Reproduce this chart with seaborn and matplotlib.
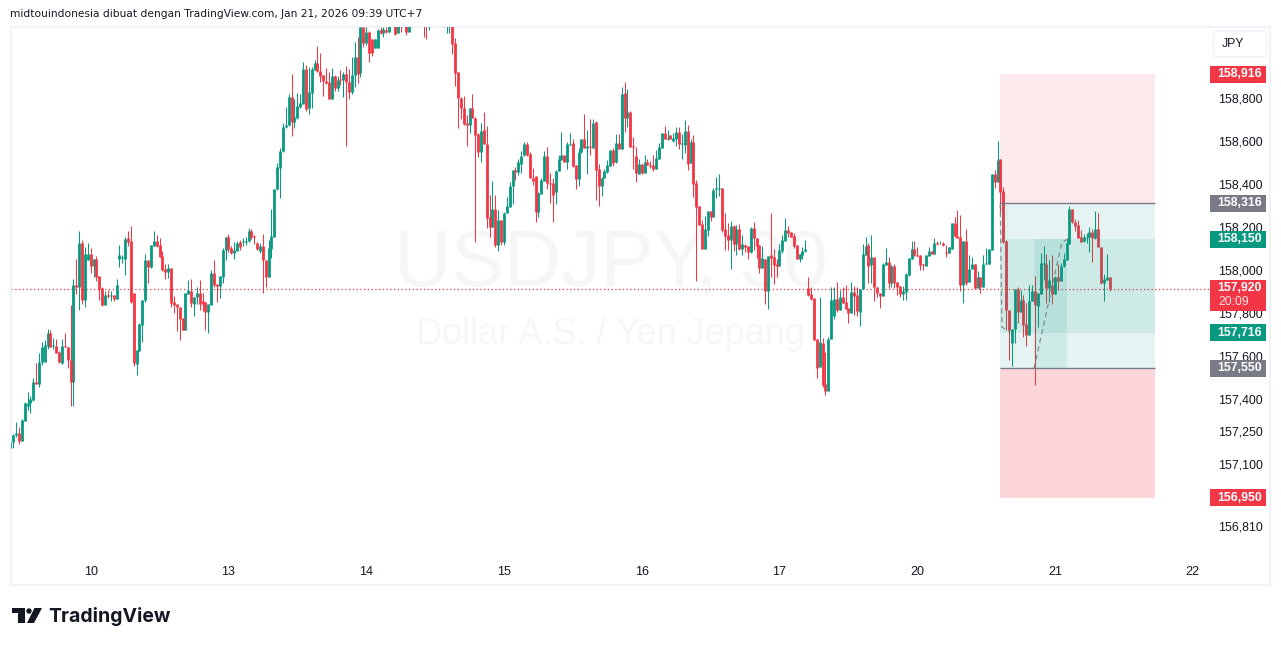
import pandas as pd
import matplotlib.pyplot as plt
import seaborn as sns
from matplotlib.patches import Rectangle, FancyBboxPatch, Ellipse, Polygon
from matplotlib.transforms import ScaledTranslation, blended_transform_factory

W, H = 1281, 646

# G = rising candle, R = falling candle
directions = ("GGGRGGGGGR" "GGGGRGRRGR" "RRGRGRGGRG" "RRRGRGRGGG" "GRRRGGGGRG" "GRRRRGRRRR" "RGGRGGRRRG" "GRRGGGRRGG"
              "RGGGRRRGRR" "GGGGGGGGRG" "GGGRGGGRRR" "RRGRGRGRRG" "GRGRGRRGGR" "GRGGRGRGRG" "GGGGRRGGGG" "GRGGRRRRRR"
              "GRRRGRRRGR" "GRGGGGRGGG" "RRRRGGGRRR" "GGGRGGRRGG" "RGRGRRGGGG" "RGRGRGRRRG" "RGRRRGGGRG" "RGGRGGRGRR"
              "RRGGRGGGRR" "RGRGRGRRGR" "RRGRGRRRGG" "GRRRRGGGRR" "RRGRRGGGRG" "RRRGRRGGGR" "GRRRGGRGRR" "RGGGGRRRRG"
              "GRGRGRRGGR" "RRGRGGRGRG" "GGGRGRRRRG" "GRGRRGGRGG" "GRGRGRGGGG" "RRRRGGGRGR" "RGGR")

body_top = [
    157.209, 157.240, 157.252, 157.252, 157.310, 157.387, 157.387, 157.407, 157.485, 157.485,
    157.578, 157.647, 157.658, 157.712, 157.712, 157.658, 157.653, 157.625, 157.656, 157.656,
    157.647, 157.591, 157.935, 157.935, 158.130, 158.133, 158.079, 158.079, 158.079, 158.056,
    158.056, 157.977, 157.923, 157.889, 157.889, 157.889, 157.889, 157.935, 158.074, 158.068,
    158.150, 158.153, 158.141, 157.898, 157.635, 157.756, 157.867, 158.053, 158.053, 158.121,
    158.141, 158.141, 158.122, 158.071, 158.009, 158.015, 158.015, 157.859, 157.847, 157.834,
    157.782, 157.898, 157.913, 157.909, 157.879, 157.898, 157.898, 157.861, 157.856, 157.847,
    157.991, 157.991, 157.940, 157.977, 158.098, 158.158, 158.158, 158.108, 158.099, 158.132,
    158.135, 158.139, 158.139, 158.186, 158.186, 158.164, 158.130, 158.116, 158.116, 158.053,
    158.107, 158.163, 158.385, 158.483, 158.557, 158.669, 158.680, 158.808, 158.808, 158.715,
    158.766, 158.780, 158.938, 158.938, 158.833, 158.938, 158.966, 158.966, 158.932, 158.910,
    158.885, 158.881, 158.907, 158.907, 158.891, 158.893, 158.919, 158.916, 158.881, 158.912,
    158.994, 158.994, 159.133, 159.133, 159.111, 159.111, 159.077, 159.077, 159.121, 159.121,
    159.125, 159.121, 159.150, 159.170, 159.160, 159.150, 159.170, 159.170, 159.160, 159.150,
    159.165, 159.175, 159.180, 159.175, 159.180, 159.180, 159.170, 159.175, 159.185, 159.180,
    159.170, 159.160, 159.170, 159.170, 159.150, 159.062, 158.924, 158.806, 158.757, 158.689,
    158.757, 158.757, 158.712, 158.636, 158.652, 158.655, 158.594, 158.251, 158.288, 158.288,
    158.238, 158.241, 158.272, 158.303, 158.396, 158.471, 158.471, 158.506, 158.536, 158.590,
    158.591, 158.545, 158.433, 158.443, 158.365, 158.424, 158.536, 158.536, 158.412, 158.409,
    158.466, 158.522, 158.539, 158.539, 158.590, 158.594, 158.596, 158.494, 158.553, 158.613,
    158.613, 158.582, 158.582, 158.689, 158.693, 158.474, 158.436, 158.466, 158.494, 158.563,
    158.566, 158.596, 158.596, 158.823, 158.828, 158.740, 158.740, 158.582, 158.536, 158.498,
    158.501, 158.508, 158.508, 158.495, 158.494, 158.526, 158.576, 158.642, 158.642, 158.619,
    158.633, 158.618, 158.647, 158.647, 158.596, 158.652, 158.652, 158.601, 158.601, 158.409,
    158.304, 158.219, 158.197, 158.279, 158.279, 158.378, 158.386, 158.387, 158.387, 158.197,
    158.167, 158.211, 158.211, 158.197, 158.197, 158.127, 158.123, 158.118, 158.202, 158.202,
    158.155, 158.121, 158.062, 158.059, 158.072, 158.076, 158.065, 158.034, 158.099, 158.146,
    158.192, 158.192, 158.183, 158.164, 158.121, 158.081, 158.093, 158.102, 157.921, 157.895,
    157.877, 157.685, 157.671, 157.669, 157.477, 157.688, 157.867, 157.870, 157.870, 157.883,
    157.883, 157.858, 157.832, 157.904, 157.904, 157.889, 157.920, 158.081, 158.118, 158.123,
    158.068, 158.068, 157.926, 157.901, 158.034, 158.044, 158.044, 158.025, 158.025, 157.949,
    157.932, 157.911, 157.988, 158.061, 158.102, 158.106, 158.076, 158.076, 158.034, 158.075,
    158.096, 158.096, 158.130, 158.132, 158.132, 158.132, 158.090, 158.112, 158.225, 158.225,
    158.164, 158.158, 158.140, 158.140, 158.013, 158.034, 158.034, 157.976, 157.972, 158.034,
    158.037, 158.102, 158.452, 158.452, 158.517, 158.520, 158.373, 158.143, 157.821, 157.733,
    157.920, 157.920, 157.867, 157.867, 157.756, 157.864, 157.908, 157.908, 157.898, 158.041,
    158.037, 158.034, 157.960, 157.937, 157.974, 157.974, 158.027, 158.056, 158.133, 158.290,
    158.290, 158.229, 158.214, 158.160, 158.158, 158.161, 158.181, 158.183, 158.198, 158.198,
    158.115, 157.963, 157.974, 157.974,
]

body_bottom = [
    157.181, 157.209, 157.240, 157.214, 157.214, 157.307, 157.376, 157.389, 157.403, 157.479,
    157.479, 157.578, 157.581, 157.653, 157.650, 157.655, 157.622, 157.581, 157.576, 157.647,
    157.588, 157.488, 157.488, 157.930, 157.929, 157.867, 157.867, 158.053, 158.025, 158.025,
    157.975, 157.917, 157.844, 157.844, 157.884, 157.886, 157.873, 157.873, 158.059, 158.063,
    158.059, 158.138, 157.859, 157.573, 157.570, 157.632, 157.749, 157.867, 158.022, 158.020,
    158.119, 158.119, 158.068, 158.006, 157.998, 157.997, 157.853, 157.845, 157.833, 157.780,
    157.728, 157.728, 157.895, 157.855, 157.851, 157.879, 157.848, 157.848, 157.811, 157.811,
    157.844, 157.937, 157.934, 157.934, 157.975, 158.098, 158.105, 158.087, 158.087, 158.096,
    158.115, 158.135, 158.136, 158.139, 158.158, 158.161, 158.105, 158.096, 158.053, 157.974,
    157.974, 158.105, 158.161, 158.382, 158.481, 158.557, 158.669, 158.678, 158.695, 158.695,
    158.712, 158.763, 158.777, 158.752, 158.757, 158.830, 158.935, 158.932, 158.909, 158.885,
    158.873, 158.802, 158.802, 158.851, 158.851, 158.888, 158.888, 158.878, 158.834, 158.834,
    158.912, 158.916, 158.922, 159.062, 159.062, 159.015, 159.015, 159.037, 159.037, 159.105,
    159.108, 159.111, 159.111, 159.150, 159.102, 159.108, 159.145, 159.155, 159.111, 159.111,
    159.150, 159.160, 159.165, 159.155, 159.160, 159.160, 159.150, 159.155, 159.165, 159.165,
    159.150, 159.150, 159.150, 159.150, 159.056, 158.922, 158.806, 158.757, 158.684, 158.679,
    158.679, 158.712, 158.633, 158.554, 158.554, 158.591, 158.248, 158.207, 158.207, 158.122,
    158.122, 158.135, 158.138, 158.272, 158.300, 158.396, 158.461, 158.461, 158.501, 158.540,
    158.540, 158.433, 158.421, 158.276, 158.276, 158.359, 158.421, 158.409, 158.406, 158.354,
    158.368, 158.466, 158.517, 158.509, 158.509, 158.588, 158.491, 158.430, 158.430, 158.553,
    158.573, 158.574, 158.577, 158.573, 158.471, 158.396, 158.396, 158.433, 158.461, 158.491,
    158.505, 158.508, 158.570, 158.570, 158.712, 158.712, 158.579, 158.579, 158.458, 158.452,
    158.458, 158.458, 158.492, 158.491, 158.477, 158.477, 158.523, 158.573, 158.616, 158.616,
    158.616, 158.607, 158.614, 158.591, 158.592, 158.587, 158.499, 158.505, 158.406, 158.301,
    158.215, 158.106, 158.106, 158.192, 158.251, 158.251, 158.381, 158.384, 158.191, 158.164,
    158.146, 158.146, 158.127, 158.127, 158.106, 158.106, 158.113, 158.090, 158.090, 158.155,
    158.118, 158.016, 158.016, 157.911, 157.911, 158.061, 158.030, 158.025, 158.025, 158.093,
    158.143, 158.180, 158.161, 158.118, 158.059, 158.059, 158.078, 158.093, 157.892, 157.873,
    157.681, 157.553, 157.556, 157.474, 157.446, 157.446, 157.688, 157.793, 157.821, 157.821,
    157.855, 157.827, 157.808, 157.808, 157.886, 157.815, 157.813, 157.920, 158.076, 158.025,
    158.028, 157.926, 157.898, 157.887, 157.884, 158.031, 157.945, 157.945, 157.948, 157.929,
    157.895, 157.895, 157.906, 157.982, 158.058, 158.075, 158.072, 158.031, 158.028, 158.027,
    158.073, 158.079, 158.081, 158.129, 158.130, 158.123, 158.087, 158.085, 158.106, 158.164,
    158.155, 157.937, 157.939, 157.948, 157.952, 158.011, 157.921, 157.923, 157.929, 157.929,
    158.034, 158.034, 158.099, 158.417, 158.415, 158.370, 158.138, 157.819, 157.728, 157.666,
    157.733, 157.813, 157.813, 157.751, 157.706, 157.706, 157.864, 157.844, 157.841, 157.895,
    158.034, 157.924, 157.921, 157.894, 157.895, 157.955, 157.955, 158.025, 158.053, 158.127,
    158.229, 158.211, 158.157, 158.138, 158.140, 158.155, 158.161, 158.154, 158.154, 158.112,
    157.945, 157.948, 157.960, 157.920,
]

wick_high = [
    157.220, 157.245, 157.300, 157.276, 157.314, 157.392, 157.441, 157.421, 157.503, 157.573,
    157.619, 157.673, 157.681, 157.735, 157.728, 157.689, 157.684, 157.632, 157.684, 157.712,
    157.647, 157.842, 157.967, 158.057, 158.187, 158.146, 158.115, 158.130, 158.107, 158.056,
    158.071, 157.977, 157.929, 157.910, 157.913, 157.910, 157.889, 157.964, 158.122, 158.076,
    158.161, 158.187, 158.211, 157.898, 157.635, 157.759, 157.867, 158.079, 158.053, 158.121,
    158.187, 158.169, 158.153, 158.094, 158.033, 158.033, 158.015, 157.885, 157.847, 157.834,
    157.782, 157.901, 157.960, 157.963, 157.879, 157.929, 157.960, 157.898, 157.856, 157.847,
    158.006, 158.053, 157.940, 157.977, 158.111, 158.158, 158.173, 158.118, 158.138, 158.142,
    158.146, 158.153, 158.158, 158.200, 158.195, 158.167, 158.138, 158.133, 158.176, 158.053,
    158.146, 158.288, 158.385, 158.502, 158.571, 158.687, 158.762, 158.823, 158.919, 158.799,
    158.827, 158.823, 158.972, 158.958, 158.950, 158.947, 158.984, 159.046, 159.015, 158.910,
    158.944, 158.927, 158.943, 158.912, 158.907, 158.935, 158.927, 158.953, 158.938, 158.994,
    159.066, 159.087, 159.136, 159.136, 159.133, 159.116, 159.077, 159.077, 159.124, 159.133,
    159.133, 159.133, 159.160, 159.180, 159.170, 159.160, 159.180, 159.180, 159.170, 159.160,
    159.185, 159.190, 159.195, 159.190, 159.190, 159.190, 159.180, 159.190, 159.200, 159.195,
    159.185, 159.170, 159.180, 159.180, 159.170, 159.082, 158.927, 158.808, 158.814, 158.726,
    158.757, 158.823, 158.715, 158.644, 158.687, 158.740, 158.675, 158.353, 158.418, 158.354,
    158.285, 158.241, 158.277, 158.344, 158.415, 158.471, 158.483, 158.520, 158.560, 158.601,
    158.601, 158.553, 158.478, 158.443, 158.368, 158.432, 158.560, 158.579, 158.455, 158.432,
    158.471, 158.540, 158.647, 158.539, 158.601, 158.644, 158.613, 158.494, 158.571, 158.613,
    158.731, 158.659, 158.706, 158.710, 158.700, 158.501, 158.440, 158.475, 158.517, 158.566,
    158.571, 158.638, 158.638, 158.857, 158.879, 158.847, 158.746, 158.622, 158.579, 158.522,
    158.501, 158.540, 158.520, 158.511, 158.540, 158.563, 158.597, 158.645, 158.675, 158.656,
    158.633, 158.641, 158.669, 158.669, 158.638, 158.703, 158.680, 158.615, 158.633, 158.424,
    158.304, 158.239, 158.257, 158.279, 158.279, 158.386, 158.437, 158.452, 158.387, 158.270,
    158.223, 158.233, 158.214, 158.214, 158.220, 158.169, 158.127, 158.118, 158.208, 158.229,
    158.155, 158.121, 158.118, 158.059, 158.072, 158.270, 158.103, 158.056, 158.127, 158.169,
    158.248, 158.211, 158.185, 158.177, 158.121, 158.081, 158.115, 158.146, 157.972, 157.929,
    157.877, 157.685, 157.880, 157.689, 157.626, 157.697, 157.929, 157.929, 157.949, 157.914,
    157.926, 157.937, 157.832, 157.949, 157.934, 157.929, 157.920, 158.127, 158.158, 158.130,
    158.169, 158.068, 157.926, 157.901, 158.037, 158.109, 158.065, 158.030, 158.034, 157.949,
    157.932, 157.932, 157.994, 158.061, 158.141, 158.141, 158.115, 158.076, 158.034, 158.075,
    158.115, 158.096, 158.154, 158.140, 158.143, 158.137, 158.124, 158.115, 158.225, 158.254,
    158.285, 158.262, 158.140, 158.195, 158.076, 158.065, 158.034, 158.003, 157.972, 158.076,
    158.107, 158.102, 158.452, 158.471, 158.607, 158.520, 158.393, 158.146, 157.821, 157.733,
    157.920, 157.929, 157.914, 157.890, 157.852, 157.937, 157.937, 157.979, 157.898, 158.087,
    158.118, 158.081, 158.053, 158.076, 157.979, 158.034, 158.037, 158.084, 158.155, 158.304,
    158.290, 158.242, 158.239, 158.192, 158.174, 158.177, 158.208, 158.195, 158.282, 158.270,
    158.115, 157.988, 158.081, 157.974,
]

wick_low = [
    157.163, 157.178, 157.232, 157.201, 157.214, 157.307, 157.356, 157.344, 157.399, 157.479,
    157.465, 157.565, 157.581, 157.642, 157.650, 157.639, 157.619, 157.573, 157.568, 157.647,
    157.550, 157.375, 157.375, 157.895, 157.820, 157.848, 157.836, 158.053, 157.994, 157.975,
    157.957, 157.867, 157.841, 157.844, 157.878, 157.862, 157.864, 157.873, 158.022, 158.040,
    157.983, 158.119, 157.855, 157.562, 157.519, 157.632, 157.672, 157.859, 157.944, 158.014,
    158.119, 158.115, 158.065, 158.003, 157.966, 157.971, 157.836, 157.805, 157.725, 157.681,
    157.728, 157.728, 157.895, 157.836, 157.793, 157.851, 157.820, 157.817, 157.728, 157.715,
    157.844, 157.929, 157.859, 157.875, 157.944, 158.053, 158.091, 158.081, 158.057, 158.096,
    158.099, 158.118, 158.121, 158.138, 158.149, 158.127, 158.099, 158.084, 157.901, 157.929,
    157.974, 158.062, 158.161, 158.378, 158.339, 158.556, 158.664, 158.675, 158.630, 158.667,
    158.710, 158.761, 158.777, 158.746, 158.731, 158.761, 158.935, 158.927, 158.879, 158.814,
    158.870, 158.802, 158.802, 158.839, 158.839, 158.865, 158.811, 158.582, 158.800, 158.823,
    158.857, 158.876, 158.904, 159.040, 159.051, 158.974, 159.001, 159.037, 159.037, 159.102,
    159.087, 159.108, 159.111, 159.145, 159.099, 159.105, 159.114, 159.145, 159.096, 159.111,
    159.145, 159.150, 159.155, 159.150, 159.090, 159.080, 159.121, 159.150, 159.155, 159.150,
    159.145, 159.133, 159.108, 159.108, 159.009, 158.861, 158.664, 158.706, 158.679, 158.582,
    158.641, 158.712, 158.138, 158.532, 158.508, 158.591, 158.200, 158.161, 158.207, 158.115,
    158.096, 158.122, 158.122, 158.272, 158.300, 158.313, 158.424, 158.447, 158.458, 158.536,
    158.536, 158.433, 158.401, 158.228, 158.254, 158.359, 158.421, 158.385, 158.319, 158.231,
    158.313, 158.466, 158.517, 158.509, 158.475, 158.587, 158.486, 158.382, 158.398, 158.548,
    158.573, 158.452, 158.540, 158.573, 158.331, 158.303, 158.350, 158.433, 158.458, 158.491,
    158.489, 158.505, 158.570, 158.570, 158.647, 158.669, 158.579, 158.477, 158.415, 158.452,
    158.452, 158.458, 158.492, 158.480, 158.467, 158.477, 158.523, 158.573, 158.616, 158.610,
    158.613, 158.602, 158.584, 158.568, 158.520, 158.548, 158.471, 158.505, 158.347, 157.957,
    158.215, 158.106, 158.106, 158.164, 158.236, 158.251, 158.339, 158.350, 158.185, 158.099,
    158.099, 158.011, 158.096, 158.076, 158.099, 158.076, 158.092, 158.056, 158.084, 158.099,
    158.061, 157.991, 158.016, 157.849, 157.825, 157.976, 157.942, 157.976, 158.025, 158.087,
    158.143, 158.161, 158.158, 158.107, 158.059, 158.045, 158.056, 158.092, 157.886, 157.867,
    157.681, 157.504, 157.556, 157.465, 157.426, 157.446, 157.688, 157.779, 157.813, 157.821,
    157.852, 157.824, 157.762, 157.808, 157.796, 157.793, 157.747, 157.920, 158.076, 157.948,
    157.948, 157.864, 157.883, 157.832, 157.884, 158.031, 157.921, 157.929, 157.921, 157.890,
    157.883, 157.867, 157.867, 157.979, 158.058, 158.072, 158.072, 158.007, 158.007, 158.027,
    158.073, 158.079, 158.081, 158.121, 158.127, 158.118, 158.065, 158.085, 158.106, 158.161,
    158.155, 157.911, 157.855, 157.937, 157.952, 158.011, 157.917, 157.923, 157.901, 157.929,
    158.034, 158.034, 158.099, 158.387, 158.415, 158.277, 158.130, 157.728, 157.589, 157.562,
    157.666, 157.759, 157.813, 157.697, 157.654, 157.706, 157.861, 157.473, 157.743, 157.895,
    157.960, 157.852, 157.859, 157.849, 157.895, 157.914, 157.955, 158.022, 158.053, 158.127,
    158.226, 158.189, 158.154, 158.135, 158.137, 158.133, 158.092, 158.045, 158.150, 158.112,
    157.941, 157.861, 157.960, 157.908,
]

day_ticks = [28, 76, 124, 172, 220, 268, 316, 364, 412]
day_labels = ["10", "13", "14", "15", "16", "17", "20", "21", "22"]
price_ticks = [158.8, 158.6, 158.4, 158.2, 158.0, 157.8, 157.6, 157.4, 157.25, 157.1, 156.81]
price_labels = ["158,800", "158,600", "158,400", "158,200", "158,000", "157,800", "157,600",
                "157,400", "157,250", "157,100", "156,810"]

last_price = 157.920
target_price = 158.916
stop_price = 156.950
zone_top = 158.316
zone_bottom = 157.550
entry_top = 158.150
entry_bottom = 157.716

GREEN = "#089981"
RED = "#f23645"
GREY = "#787b86"
INK = "#131722"


def fx(px):
    return px / W


def fy(px):
    return 1 - px / H


sns.set_theme(style="white")
plt.rcParams["font.family"] = ["Liberation Sans", "DejaVu Sans"]

fig = plt.figure(figsize=(W / 100, H / 100), dpi=100, facecolor="white")
ax = fig.add_axes([fx(11), fy(585), (1270 - 11) / W, (585 - 27) / H])

# candles: one wick and one body per bar, long form for seaborn
sides = list(directions)
bars = list(range(len(sides)))
wick_df = pd.DataFrame({"bar": bars * 2, "price": wick_high + wick_low, "side": sides * 2})
body_df = pd.DataFrame({"bar": bars * 2, "price": body_top + body_bottom, "side": sides * 2})
palette = {"G": GREEN, "R": RED}

sns.lineplot(data=wick_df, x="bar", y="price", hue="side", units="bar", estimator=None, sort=False,
             palette=palette, linewidth=0.75, legend=False, ax=ax, zorder=3, solid_capstyle="butt")
sns.lineplot(data=body_df, x="bar", y="price", hue="side", units="bar", estimator=None, sort=False,
             palette=palette, linewidth=2.0, legend=False, ax=ax, zorder=3, solid_capstyle="butt")

ax.set_xlim(0.24, 438.9)
ax.set_ylim(156.544, 159.135)
ax.set_xlabel("")
ax.set_ylabel("")

ax.axhline(last_price, xmax=(1210 - 11) / (1270 - 11), color=RED, linewidth=0.9, linestyle=(0, (1, 2)), zorder=2)

# long position tool, drawn over the candles
z0, z1 = 344.8, 398.8
b0, b1 = 356.7, 368.2
ax.fill_between([z0, z1], zone_top, target_price, color=RED, alpha=0.1, linewidth=0, zorder=4)
ax.fill_between([z0, z1], stop_price, zone_bottom, color=RED, alpha=0.2, linewidth=0, zorder=4)
ax.fill_between([z0, z1], zone_bottom, zone_top, color=GREEN, alpha=0.1, linewidth=0, zorder=4)
ax.fill_between([z0, z1], entry_bottom, entry_top, color=GREEN, alpha=0.1, linewidth=0, zorder=4)
ax.fill_between([b0, b1], zone_bottom, entry_top, color=GREEN, alpha=0.1, linewidth=0, zorder=4)
ax.fill_between([z0, 347.6], zone_top, entry_top, color=GREEN, alpha=0.04, linewidth=0, zorder=4)
ax.hlines([zone_top, zone_bottom], z0, z1, color=GREY, linewidth=1.0, zorder=5)
ax.plot([344.9, 345.5, 348.4], [158.316, 157.742, 157.716], color=GREY, linewidth=0.9,
        linestyle=(0, (4, 3)), alpha=0.85, zorder=5)
ax.plot([356.7, 366.4, 368.5], [157.550, 158.137, 158.150], color=GREY, linewidth=0.9,
        linestyle=(0, (4, 3)), alpha=0.85, zorder=5)

# watermark
ax.text(fx(611), fy(266), "USDJPY, 30", transform=fig.transFigure, ha="center", va="center",
        fontsize=57, color="#f6f6f7", zorder=1)
ax.text(fx(610), fy(334), "Dollar A.S. / Yen Jepang", transform=fig.transFigure, ha="center", va="center",
        fontsize=26, color="#f7f7f8", zorder=1)

ax.set_xticks(day_ticks, day_labels)
ax.yaxis.tick_right()
ax.set_yticks(price_ticks, price_labels)
ax.tick_params(axis="x", length=0, pad=-13.7, labelsize=9, labelcolor=INK)
ax.tick_params(axis="y", length=0, pad=-37.5, labelsize=8.9, labelcolor=INK)
# the labels sit a little above their true price in the reference
nudge = ScaledTranslation(0, 1.6 / 100, fig.dpi_scale_trans)
for tick in ax.yaxis.get_major_ticks():
    tick.label2.set_transform(tick.label2.get_transform() + nudge)
for spine in ax.spines.values():
    spine.set_visible(True)
    spine.set_color("#f0f3fa")
    spine.set_linewidth(1.5)

# price axis labels, figure artists so they cover the tick labels
tag_tf = blended_transform_factory(fig.transFigure, ax.transData)
px_price = 0.004643


def price_tag(price, label, color):
    fig.add_artist(Rectangle((fx(1210), price - 8.5 * px_price), 56 / W, 17 * px_price,
                             transform=tag_tf, facecolor=color, edgecolor="none", zorder=5))
    fig.text(fx(1239.5), price, label, transform=tag_tf, ha="center", va="center", color="white",
             fontsize=8.8, fontweight="bold", zorder=6)


price_tag(target_price, "158,916", RED)
price_tag(zone_top, "158,316", GREY)
price_tag(entry_top, "158,150", GREEN)
price_tag(entry_bottom, "157,716", GREEN)
price_tag(zone_bottom, "157,550", GREY)
price_tag(stop_price, "156,950", RED)
fig.add_artist(Rectangle((fx(1210), fy(311)), 56 / W, 31 / H, transform=fig.transFigure, facecolor=RED,
                         edgecolor="none", zorder=5))
fig.text(fx(1239.5), fy(288), "157,920", ha="center", va="center", color="white", fontsize=8.8,
         fontweight="bold", zorder=6)
fig.text(fx(1218), fy(302), "20:09", ha="left", va="center", color="#fde3e5", fontsize=8.8, zorder=6)

# currency button
fig.add_artist(FancyBboxPatch((fx(1213.5), fy(57)), 53 / W, 26 / H, boxstyle="round,pad=0,rounding_size=0.003",
                              transform=fig.transFigure, facecolor="white", edgecolor="#f0f3fa",
                              linewidth=1.2, zorder=5, mutation_aspect=2))
fig.text(fx(1222), fy(44), "JPY", ha="left", va="center", color=INK, fontsize=8.8, zorder=6)

# header and logo
fig.text(fx(10), fy(14), "midtouindonesia dibuat dengan TradingView.com, Jan 21, 2026 09:39 UTC+7",
         ha="left", va="center", color=INK, fontsize=7.64, family=["DejaVu Sans"])

logo = "#131722"
fig.add_artist(Polygon([(fx(12), fy(608)), (fx(24.5), fy(608)), (fx(24.5), fy(623)), (fx(18), fy(623)),
                        (fx(18), fy(613)), (fx(12), fy(613))], transform=fig.transFigure, facecolor=logo,
                       edgecolor="none"))
fig.add_artist(Polygon([(fx(34.5), fy(608)), (fx(42), fy(608)), (fx(34), fy(623)), (fx(27), fy(623))],
                       transform=fig.transFigure, facecolor=logo, edgecolor="none"))
fig.add_artist(Ellipse((fx(29), fy(611)), 5.4 / W, 5.4 / H, transform=fig.transFigure,
                       facecolor=logo, edgecolor="none"))
fig.text(fx(48), fy(616), "TradingView", ha="left", va="center", color=logo, fontsize=14.0, fontweight="bold",
         family=["Inter", "DejaVu Sans"])

fig.savefig("out.png", dpi=100)
